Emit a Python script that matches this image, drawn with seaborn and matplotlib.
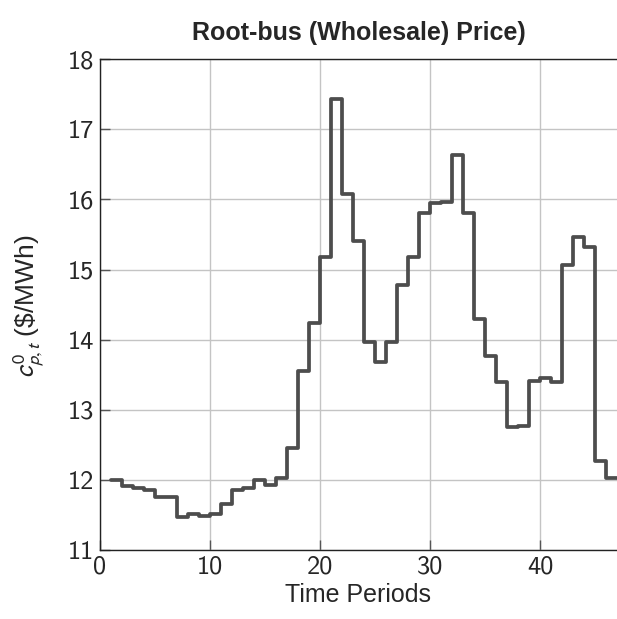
import matplotlib
matplotlib.use("Agg")
import matplotlib.pyplot as plt
import seaborn as sns
import pandas as pd

# Root-bus wholesale price per time period ($/MWh)
periods = list(range(1, 48))
price = [12.00, 11.91, 11.89, 11.85, 11.75, 11.75, 11.47, 11.52, 11.49, 11.52,
         11.66, 11.86, 11.89, 12.00, 11.93, 12.02, 12.46, 13.55, 14.24, 15.18,
         17.43, 16.08, 15.41, 13.96, 13.68, 13.96, 14.78, 15.18, 15.81, 15.95,
         15.97, 16.63, 15.81, 14.30, 13.77, 13.40, 12.76, 12.77, 13.41, 13.45,
         13.39, 15.07, 15.47, 15.32, 12.27, 12.02, 12.02]
x_ticks = [0, 10, 20, 30, 40]
y_ticks = [11, 12, 13, 14, 15, 16, 17, 18]

sns.set_style("white")
plt.rcParams["mathtext.fontset"] = "stixsans"
plt.rcParams["font.family"] = ["Liberation Sans", "DejaVu Sans"]

df = pd.DataFrame({"t": periods, "price": price})

fig = plt.figure(figsize=(6.17, 6.19), dpi=100)
ax = fig.add_axes([0.162, 0.1115, 0.838, 0.7927])

sns.lineplot(data=df, x="t", y="price", ax=ax, drawstyle="steps-post",
             color="#4d4d4d", linewidth=2.7, zorder=3)

ax.set_xlim(0, 47)
ax.set_ylim(11, 18)
ax.set_xticks(x_ticks)
ax.set_yticks(y_ticks)
ax.grid(True, color="#c4c4c4", linewidth=1.0, zorder=0)

for lab in ax.get_xticklabels() + ax.get_yticklabels():
    lab.set_fontfamily("cmss10")
    lab.set_fontsize(19)
ax.tick_params(direction="in", length=7, width=1.0, color="#555555",
               left=True, bottom=True, pad=4)

for side in ["left", "bottom", "top"]:
    ax.spines[side].set_color("#222222")
    ax.spines[side].set_linewidth(1.0)
ax.spines["right"].set_visible(False)

ax.set_xlabel("Time Periods", fontsize=18, labelpad=3)
ax.set_ylabel(r"$c^0_{p,t}$ (\$/MWh)", fontsize=19)
ax.yaxis.set_label_coords(-0.104, 0.497)
ax.set_title("Root-bus (Wholesale) Price)", fontsize=18, fontweight="bold", pad=14)

fig.savefig("out.png", dpi=100)
